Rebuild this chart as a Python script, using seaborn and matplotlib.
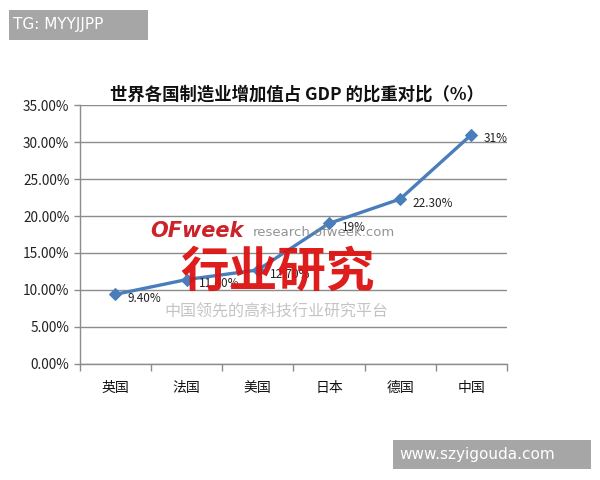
import numpy as np
import pandas as pd
import matplotlib
matplotlib.use('Agg')
import matplotlib.pyplot as plt
from matplotlib.patches import Rectangle
from matplotlib.ticker import FixedLocator, FuncFormatter
import seaborn as sns

# data
countries = ['英国', '法国', '美国', '日本', '德国', '中国']
share = [9.4, 11.4, 12.7, 19.0, 22.3, 31.0]
point_labels = ['9.40%', '11.40%', '12.70%', '19%', '22.30%', '31%']
y_ticks = [0, 5, 10, 15, 20, 25, 30, 35]

sns.set_theme(style='white')
plt.rcParams['font.family'] = ['Noto Sans CJK SC', 'DejaVu Sans']

LINE = '#4a7ebb'
GRID = '#8c8c8c'

df = pd.DataFrame({'pos': np.arange(len(countries)), 'share': share})

fig = plt.figure(figsize=(6, 4.8), dpi=100)
fig.patch.set_facecolor('white')
ax = fig.add_axes([0.133, 0.242, 0.712, 0.539])

sns.lineplot(data=df, x='pos', y='share', ax=ax, color=LINE, linewidth=2.4,
             marker='D', markersize=6, markeredgecolor=LINE, zorder=3)

for xi, yi, lab in zip(df['pos'], df['share'], point_labels):
    ax.annotate(lab, (xi, yi), xytext=(9, -3), textcoords='offset points',
                ha='left', va='center', fontsize=8.5, color='#222222', zorder=4)

ax.set_xlim(-0.5, len(countries) - 0.5)
ax.set_ylim(0, 35)
ax.set_yticks(y_ticks)
ax.yaxis.set_major_formatter(FuncFormatter(lambda v, p: f'{v:.2f}%'))
ax.set_xticks(df['pos'])
ax.set_xticklabels(countries)
ax.xaxis.set_minor_locator(FixedLocator(np.arange(-0.5, len(countries), 1.0)))
ax.tick_params(axis='x', which='major', length=0, pad=12, labelsize=10, colors='#111111')
ax.tick_params(axis='x', which='minor', bottom=True, length=5, width=1, color=GRID)
ax.tick_params(axis='y', left=True, length=4, width=1, color=GRID, labelsize=9.8, colors='#222222')
ax.yaxis.grid(True, color=GRID, linewidth=1)
ax.set_axisbelow(True)
ax.set_xlabel('')
ax.set_ylabel('')
for s in ['top', 'right']:
    ax.spines[s].set_visible(False)
for s in ['left', 'bottom']:
    ax.spines[s].set_color(GRID)
    ax.spines[s].set_linewidth(1)

fig.text(0.495, 0.802, '世界各国制造业增加值占 GDP 的比重对比（%）', ha='center', va='center',
         fontsize=12.5, fontweight='bold', color='#111111')

# watermark overlay
fig.text(0.25, 0.519, 'OFweek', ha='left', va='center', fontsize=15, fontweight='bold',
         fontstyle='italic', color='#cc2229', family='DejaVu Sans')
fig.text(0.422, 0.515, 'research.ofweek.com', ha='left', va='center', fontsize=9.5,
         color='#888888', alpha=0.9, family='DejaVu Sans')
fig.text(0.462, 0.433, '行业研究', ha='center', va='center', fontsize=35, fontweight='heavy',
         color='#dd1111', alpha=0.95)
fig.text(0.46, 0.35, '中国领先的高科技行业研究平台', ha='center', va='center', fontsize=11.5,
         color='#c4c4c4')

# corner tags
fig.patches.append(Rectangle((0.015, 0.917), 0.232, 0.062, transform=fig.transFigure,
                             facecolor='#a6a6a6', edgecolor='none'))
fig.text(0.022, 0.948, 'TG: MYYJJPP', ha='left', va='center', fontsize=11, color='white',
         family='DejaVu Sans')
fig.patches.append(Rectangle((0.655, 0.023), 0.33, 0.06, transform=fig.transFigure,
                             facecolor='#a6a6a6', edgecolor='none'))
fig.text(0.665, 0.053, 'www.szyigouda.com', ha='left', va='center', fontsize=11, color='white',
         family='DejaVu Sans')

plt.savefig('out.png', dpi=100, facecolor='white')
plt.close()
